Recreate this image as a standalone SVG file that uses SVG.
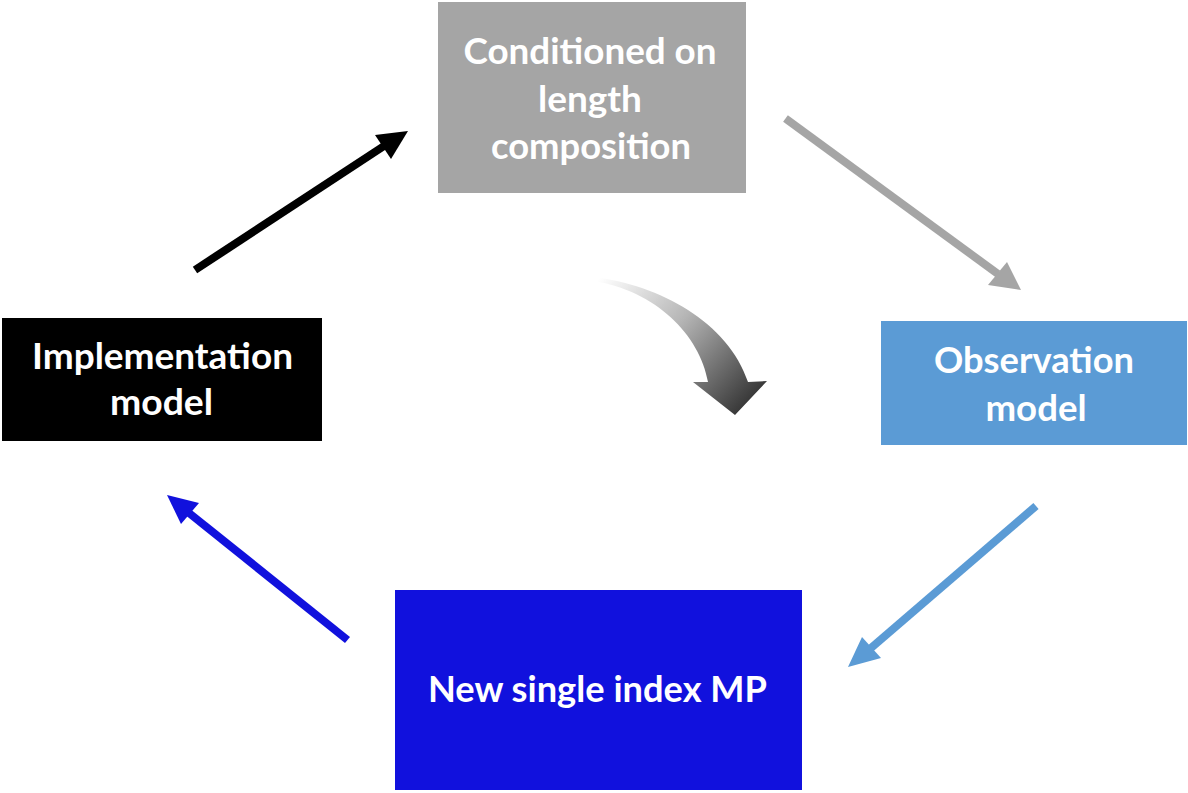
<svg xmlns="http://www.w3.org/2000/svg" width="1188" height="793" viewBox="0 0 1188 793">
<style>
.lbl{font-family:Lato,"Open Sans","Liberation Sans",sans-serif;font-weight:bold;font-size:36px;fill:#ffffff;text-anchor:middle}
.shaft{stroke-width:8;fill:none;stroke-linecap:butt}
</style>
<defs>
<linearGradient id="cg" gradientUnits="userSpaceOnUse" x1="600" y1="278" x2="745" y2="412">
<stop offset="0" stop-color="#ffffff"/>
<stop offset="0.45" stop-color="#b5b5b5"/>
<stop offset="1" stop-color="#333333"/>
</linearGradient>
</defs>
<rect width="1188" height="793" fill="#ffffff"/>
<g id="node-conditioned">
<rect x="438" y="2" width="308" height="191" fill="#a5a5a5"/>
<text class="lbl" x="590" y="64" textLength="253" lengthAdjust="spacingAndGlyphs">Conditioned on</text>
<text class="lbl" x="590" y="112" textLength="104" lengthAdjust="spacingAndGlyphs">length</text>
<text class="lbl" x="591" y="159" textLength="200" lengthAdjust="spacingAndGlyphs">composition</text>
</g>
<g id="node-implementation">
<rect x="2" y="318" width="320" height="123" fill="#000000"/>
<text class="lbl" x="162.5" y="369" textLength="261" lengthAdjust="spacingAndGlyphs">Implementation</text>
<text class="lbl" x="161.5" y="415" textLength="103" lengthAdjust="spacingAndGlyphs">model</text>
</g>
<g id="node-observation">
<rect x="881" y="321" width="306" height="124" fill="#5b9bd5"/>
<text class="lbl" x="1034" y="373" textLength="200" lengthAdjust="spacingAndGlyphs">Observation</text>
<text class="lbl" x="1036" y="421" textLength="101" lengthAdjust="spacingAndGlyphs">model</text>
</g>
<g id="node-newmp">
<rect x="395" y="590" width="407" height="200" fill="#1111dd"/>
<text class="lbl" x="597.5" y="702" textLength="339" lengthAdjust="spacingAndGlyphs">New single index MP</text>
</g>
<g id="connectors">
<line class="shaft" x1="195" y1="270" x2="384" y2="146" stroke="#000000"/>
<polygon points="408,131 375,135 391,159" fill="#000000"/>
<line class="shaft" x1="785.5" y1="118.5" x2="998" y2="274" stroke="#a5a5a5"/>
<polygon points="1021,290 988,285 1007,262" fill="#a5a5a5"/>
<line class="shaft" x1="1036" y1="506" x2="871" y2="648" stroke="#5b9bd5"/>
<polygon points="848,667 862,637 881,658" fill="#5b9bd5"/>
<line class="shaft" x1="347.5" y1="640" x2="189" y2="513" stroke="#1111dd"/>
<polygon points="167,495 199,503 181,524" fill="#1111dd"/>
<path d="M593,277 C660,285 728,322 748,382 L767,381 L735,415 L693,382 L708,382 C700,335 655,290 593,281 Z" fill="url(#cg)"/>
</g>
</svg>
